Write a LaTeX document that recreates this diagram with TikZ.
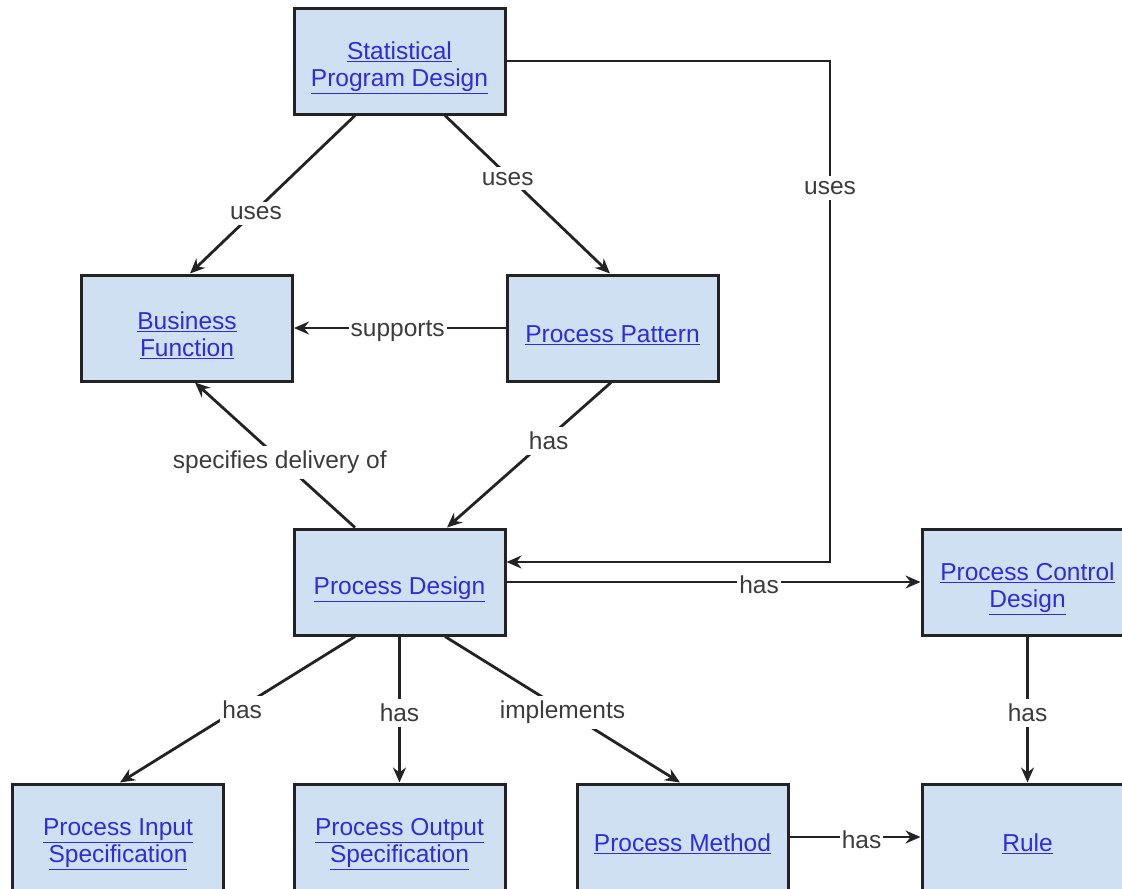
\documentclass[tikz,border=0pt]{standalone}
\usepackage{fontspec}
\setmainfont{Liberation Sans}
\usetikzlibrary{arrows.meta,calc}
\definecolor{boxfill}{RGB}{207,224,242}
\definecolor{linkblue}{RGB}{45,45,220}
\definecolor{lblgray}{RGB}{60,60,60}
\definecolor{edgecol}{RGB}{35,35,35}
\newcommand{\lnk}[1]{\underline{#1}}
\newcommand{\toppad}{\rule{0pt}{32pt}}
\tikzset{
 ent/.style={draw=edgecol, line width=3pt, fill=boxfill, minimum width=211pt, minimum height=106pt, inner sep=0pt, align=center, text=linkblue, font=\fontsize{24.5}{27}\selectfont},
 rel/.style={draw=edgecol, line width=2.8pt, -{Stealth[length=15pt,width=13pt,inset=5pt]}},
 lbl/.style={fill=white, text=lblgray, font=\fontsize{24.5}{27}\selectfont, inner xsep=2pt, inner ysep=5pt, yshift=-3pt}
}
\begin{document}
\begin{tikzpicture}[x=1pt,y=-1pt]
\useasboundingbox (0,0) rectangle (1122,889);
\node[ent] (spd) at (399.5,61) {\toppad\lnk{Statistical}\\\lnk{Program Design}};
\node[ent] (bf) at (187,328) {\toppad\lnk{Business}\\\lnk{Function}};
\node[ent] (pp) at (612.5,328) {\toppad\lnk{Process Pattern}};
\node[ent] (pd) at (399.5,582) {\toppad\lnk{Process Design}};
\node[ent] (pcd) at (1027.5,582) {\toppad\lnk{Process Control}\\\lnk{Design}};
\node[ent] (pis) at (118,837) {\toppad\lnk{Process Input}\\\lnk{Specification}};
\node[ent] (pos) at (399.5,837) {\toppad\lnk{Process Output}\\\lnk{Specification}};
\node[ent] (pm) at (682.5,837) {\toppad\lnk{Process Method}};
\node[ent] (rule) at (1027.5,837) {\toppad\lnk{Rule}};
\coordinate (turn) at (830,185);
\draw[rel] ([xshift=-44.5pt]spd.south) -- node[lbl,pos=0.6] {uses} ([xshift=3pt]bf.north);
\draw[rel] ([xshift=45.5pt]spd.south) -- node[lbl,pos=0.38] {uses} ([xshift=-2.5pt]pp.north);
\draw[rel] (spd.east) -| (turn) node[lbl] {uses} |- ([yshift=20pt]pd.east);
\draw[rel] (pp.west) -- node[lbl,pos=0.51] {supports} (bf.east);
\draw[rel] ([xshift=-1.5pt]pp.south) -- node[lbl,pos=0.38] {has} ([xshift=47.5pt]pd.north);
\draw[rel] ([xshift=-44.5pt]pd.north) -- node[lbl,pos=0.47] {specifies delivery of} ([xshift=8pt]bf.south);
\draw[rel] (pd.east) -- node[lbl,pos=0.61] {has} (pcd.west);
\draw[rel] ([xshift=-44.5pt]pd.south) -- node[lbl,pos=0.48] {has} ([xshift=2pt]pis.north);
\draw[rel] (pd.south) -- node[lbl,pos=0.5] {has} (pos.north);
\draw[rel] ([xshift=45.5pt]pd.south) -- node[lbl,pos=0.5] {implements} ([xshift=-2.5pt]pm.north);
\draw[rel] (pcd.south) -- node[lbl,pos=0.5] {has} (rule.north);
\draw[rel] (pm.east) -- node[lbl,pos=0.55] {has} (rule.west);
\end{tikzpicture}
\end{document}
